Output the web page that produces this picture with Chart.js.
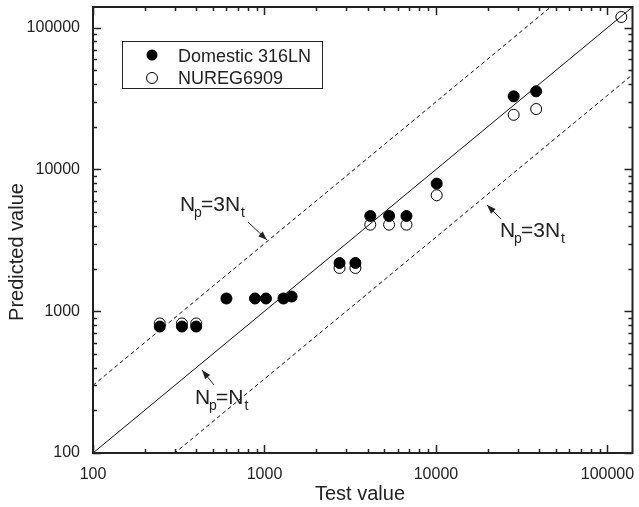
<!DOCTYPE html>
<html>
<head>
<meta charset="utf-8">
<script src="https://cdn.jsdelivr.net/npm/chart.js@4.4.0/dist/chart.umd.min.js"></script>
<style>
html,body{margin:0;padding:0;background:#fff;}
#wrap{width:639px;height:507px;}
</style>
</head>
<body>
<div id="wrap"><canvas id="chart1" width="639" height="507"></canvas></div>
<script>
// values
var testDomestic = [245, 330, 400, 600, 880, 1020, 1290, 1440, 2740, 3390, 4140, 5330, 6730, 10100, 28400, 38400];
var predDomestic = [780, 780, 780, 1230, 1230, 1230, 1230, 1270, 2190, 2190, 4700, 4700, 4700, 7950, 32800, 35600];
var testNureg = [245, 330, 400, 2740, 3390, 4140, 5330, 6730, 10100, 28400, 38400, 120500];
var predNureg = [820, 820, 820, 2020, 2020, 4080, 4080, 4080, 6580, 24300, 26700, 119000];
var seriesNames = ["Domestic 316LN", "NUREG6909"];
var axisMin = 100, axisMax = 140000;
var decadeTicks = [100, 1000, 10000, 100000];
var refX = [100, 140000];
var scatterFactor = 3;

function pts(xs, ys) {
  return xs.map(function(x, i){ return {x: x, y: ys[i]}; });
}

var FONT = '"Liberation Sans", Arial, sans-serif';

var framePlugin = {
  id: 'frame',
  afterDraw: function(chart) {
    var ctx = chart.ctx, a = chart.chartArea, xs = chart.scales.x, ys = chart.scales.y;
    ctx.save();
    ctx.strokeStyle = '#222';
    ctx.lineWidth = 1.5;
    ctx.beginPath();
    decadeTicks.forEach(function(d){
      for (var m = 1; m <= 9; m++) {
        var v = d * m;
        if (v > axisMax) break;
        var len = m == 1 ? 8 : 4;
        var px = Math.round(xs.getPixelForValue(v)) + 0.5;
        ctx.moveTo(px, a.bottom); ctx.lineTo(px, a.bottom - len);
        ctx.moveTo(px, a.top); ctx.lineTo(px, a.top + len);
        var py = Math.round(ys.getPixelForValue(v)) + 0.5;
        ctx.moveTo(a.left, py); ctx.lineTo(a.left + len, py);
        ctx.moveTo(a.right, py); ctx.lineTo(a.right - len, py);
      }
    });
    ctx.stroke();
    ctx.lineWidth = 2;
    ctx.strokeRect(a.left, a.top, a.right - a.left, a.bottom - a.top);

    // axis titles
    ctx.fillStyle = '#222';
    ctx.font = '20px ' + FONT;
    ctx.textAlign = 'center';
    ctx.textBaseline = 'alphabetic';
    ctx.fillText('Test value', 360, 500);
    ctx.save();
    ctx.translate(23, 252);
    ctx.rotate(-Math.PI / 2);
    ctx.fillText('Predicted value', 0, 0);
    ctx.restore();

    // legend
    ctx.lineWidth = 1;
    ctx.strokeRect(122.5, 41.5, 200, 47);
    ctx.beginPath();
    ctx.arc(152, 55, 5.5, 0, Math.PI * 2);
    ctx.fillStyle = '#000';
    ctx.fill();
    ctx.beginPath();
    ctx.arc(152, 78, 5.5, 0, Math.PI * 2);
    ctx.strokeStyle = '#000';
    ctx.stroke();
    ctx.fillStyle = '#222';
    ctx.font = '18px ' + FONT;
    ctx.textAlign = 'left';
    ctx.fillText(seriesNames[0], 178, 61.5);
    ctx.fillText(seriesNames[1], 178, 83.5);

    // annotations
    function label(x, base, mid) {
      ctx.textAlign = 'left';
      ctx.font = '21px ' + FONT;
      ctx.fillText('N', x, base);
      ctx.font = '14px ' + FONT;
      ctx.fillText('p', x + 14, base + 6);
      ctx.font = '21px ' + FONT;
      ctx.fillText(mid, x + 21, base);
      var w = ctx.measureText(mid).width;
      ctx.font = '14px ' + FONT;
      ctx.fillText('t', x + 22 + w, base + 6);
    }
    function arrow(x1, y1, x2, y2) {
      ctx.strokeStyle = '#222';
      ctx.lineWidth = 1;
      ctx.beginPath(); ctx.moveTo(x1, y1); ctx.lineTo(x2, y2); ctx.stroke();
      var ang = Math.atan2(y2 - y1, x2 - x1), L = 9, W = 3.2;
      ctx.beginPath();
      ctx.moveTo(x2, y2);
      ctx.lineTo(x2 - L * Math.cos(ang) + W * Math.sin(ang), y2 - L * Math.sin(ang) - W * Math.cos(ang));
      ctx.lineTo(x2 - L * Math.cos(ang) - W * Math.sin(ang), y2 - L * Math.sin(ang) + W * Math.cos(ang));
      ctx.closePath();
      ctx.fillStyle = '#222';
      ctx.fill();
    }
    ctx.fillStyle = '#222';
    label(180, 211, '=3N');
    arrow(248, 222, 267, 240);
    ctx.fillStyle = '#222';
    label(500, 237, '=3N');
    arrow(501, 219, 487, 205);
    ctx.fillStyle = '#222';
    label(195, 404, '=N');
    arrow(214, 385, 202, 370);
    ctx.restore();
  }
};

function noPad(s) {
  s.paddingTop = 0; s.paddingBottom = 0; s.paddingLeft = 0; s.paddingRight = 0;
}

new Chart(document.getElementById("chart1"), {
  type: 'scatter',
  data: {
    datasets: [
      {label: seriesNames[0], data: pts(testDomestic, predDomestic), order: 0,
       pointRadius: 5.5, pointBackgroundColor: '#000', pointBorderColor: '#000', pointBorderWidth: 1},
      {label: seriesNames[1], data: pts(testNureg, predNureg), order: 1,
       pointRadius: 5.5, pointBackgroundColor: 'rgba(0,0,0,0)', pointBorderColor: '#000', pointBorderWidth: 1},
      {label: 'Np=Nt', data: pts(refX, refX), showLine: true, pointRadius: 0, order: 2,
       borderColor: '#111', borderWidth: 1},
      {label: 'Np=3Nt', data: pts(refX, refX.map(function(v){ return v * scatterFactor; })), showLine: true, pointRadius: 0, order: 2,
       borderColor: '#111', borderWidth: 1, borderDash: [4, 3]},
      {label: 'Np=Nt/3', data: pts(refX, refX.map(function(v){ return v / scatterFactor; })), showLine: true, pointRadius: 0, order: 2,
       borderColor: '#111', borderWidth: 1, borderDash: [4, 3]}
    ]
  },
  options: {
    responsive: false,
    devicePixelRatio: 1,
    animation: false,
    events: [],
    layout: {padding: {left: 0, right: 2, top: 7, bottom: 0}},
    plugins: {legend: {display: false}, tooltip: {enabled: false}},
    scales: {
      x: {
        type: 'logarithmic', min: axisMin, max: axisMax,
        grid: {display: false}, border: {display: false},
        afterBuildTicks: function(s){ s.ticks = decadeTicks.map(function(v){ return {value: v}; }); },
        afterFit: function(s){ s.height = 54; noPad(s); },
        ticks: {autoSkip: false, maxRotation: 0, padding: 4, color: '#222',
                font: {family: FONT, size: 16},
                callback: function(v){ return String(v); }}
      },
      y: {
        type: 'logarithmic', min: axisMin, max: axisMax,
        grid: {display: false}, border: {display: false},
        afterBuildTicks: function(s){ s.ticks = decadeTicks.map(function(v){ return {value: v}; }); },
        afterFit: function(s){ s.width = 93; noPad(s); },
        ticks: {autoSkip: false, padding: 5, color: '#222',
                font: {family: FONT, size: 16},
                callback: function(v){ return String(v); }}
      }
    }
  },
  plugins: [framePlugin]
});
</script>
</body>
</html>
